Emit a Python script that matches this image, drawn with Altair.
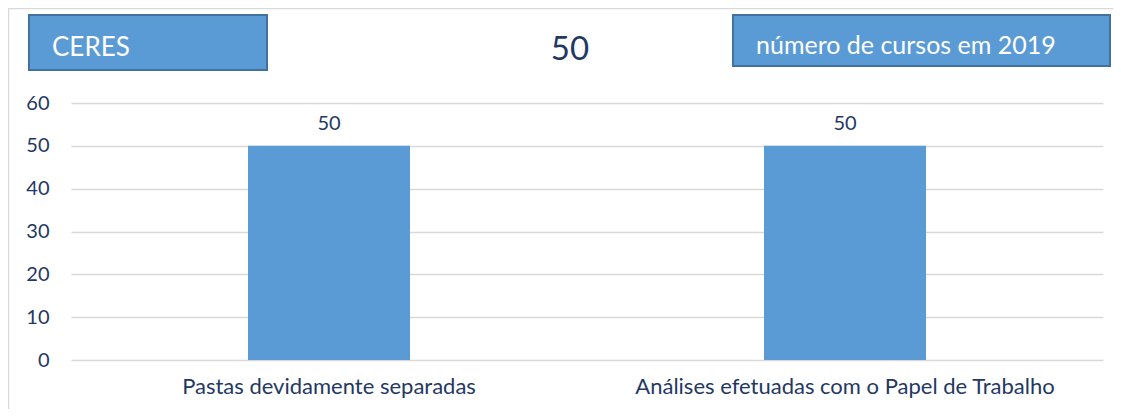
import altair as alt
import pandas as pd

categories = ["Pastas devidamente separadas", "Análises efetuadas com o Papel de Trabalho"]
values = [50, 50]
left_box_text = ["CERES"]
center_text = ["50"]
right_box_text = ["número de cursos em 2019"]

FONT = "Lato"
NAVY = "#1f3864"
BLUE = "#5b9bd5"
BOX_STROKE = "#41719c"
GRID = "#d9d9d9"

df = pd.DataFrame({"cat": categories, "val": values})

x_enc = alt.X("cat:N", sort=categories, title=None,
              scale=alt.Scale(paddingInner=0.686, paddingOuter=0.343),
              axis=alt.Axis(labelAngle=0, domain=False, ticks=False, labelPadding=16,
                            labelFont=FONT, labelFontSize=22, labelColor=NAVY, labelLimit=600))
y_enc = alt.Y("val:Q", title=None, scale=alt.Scale(domain=[0, 60]),
              axis=alt.Axis(values=[0, 10, 20, 30, 40, 50, 60], domain=False, ticks=False,
                            labelPadding=22, labelFont=FONT, labelFontSize=20, labelColor=NAVY,
                            grid=True, gridColor=GRID, gridWidth=1.3))

base = alt.Chart(df)
bars = base.mark_bar(color=BLUE).encode(x=x_enc, y=y_enc)
labels = base.mark_text(dy=-22, font=FONT, fontSize=20, color=NAVY, baseline="middle").encode(
    x=alt.X("cat:N", sort=categories), y=alt.Y("val:Q"), text=alt.Text("val:Q"))

one = pd.DataFrame({"a": [0]})
frame_top = alt.Chart(one).mark_rule(color=GRID, strokeWidth=1.5).encode(
    x=alt.value(-63), x2=alt.value(1042), y=alt.value(-94.5))
frame_left = alt.Chart(one).mark_rule(color=GRID, strokeWidth=1.5).encode(
    x=alt.value(-62.5), y=alt.value(-95), y2=alt.value(306))

lbox = alt.Chart(one).mark_rect(fill=BLUE, stroke=BOX_STROKE, strokeWidth=2).encode(
    x=alt.value(-42), x2=alt.value(196), y=alt.value(-88), y2=alt.value(-33))
rbox = alt.Chart(one).mark_rect(fill=BLUE, stroke=BOX_STROKE, strokeWidth=2).encode(
    x=alt.value(662), x2=alt.value(1039), y=alt.value(-88), y2=alt.value(-37))

ltext = alt.Chart(pd.DataFrame({"t": left_box_text})).mark_text(
    font=FONT, fontSize=26, color="white", align="left", baseline="middle").encode(
    x=alt.value(-19), y=alt.value(-55.5), text="t:N")
ctext = alt.Chart(pd.DataFrame({"t": center_text})).mark_text(
    font=FONT, fontSize=33, color=NAVY, align="center", baseline="middle").encode(
    x=alt.value(499), y=alt.value(-53), text="t:N")
rtext = alt.Chart(pd.DataFrame({"t": right_box_text})).mark_text(
    font=FONT, fontSize=25, color="white", align="left", baseline="middle").encode(
    x=alt.value(685), y=alt.value(-57), text="t:N")

chart = alt.layer(frame_top, frame_left, bars, labels, lbox, rbox, ltext, ctext, rtext).properties(
    width=1032, height=257, autosize="none",
    padding={"left": 63, "top": 95, "right": 10, "bottom": 49},
    background="white",
).configure_view(stroke=None)

chart.save("out.html", embed_options={"renderer": "svg", "actions": False})
